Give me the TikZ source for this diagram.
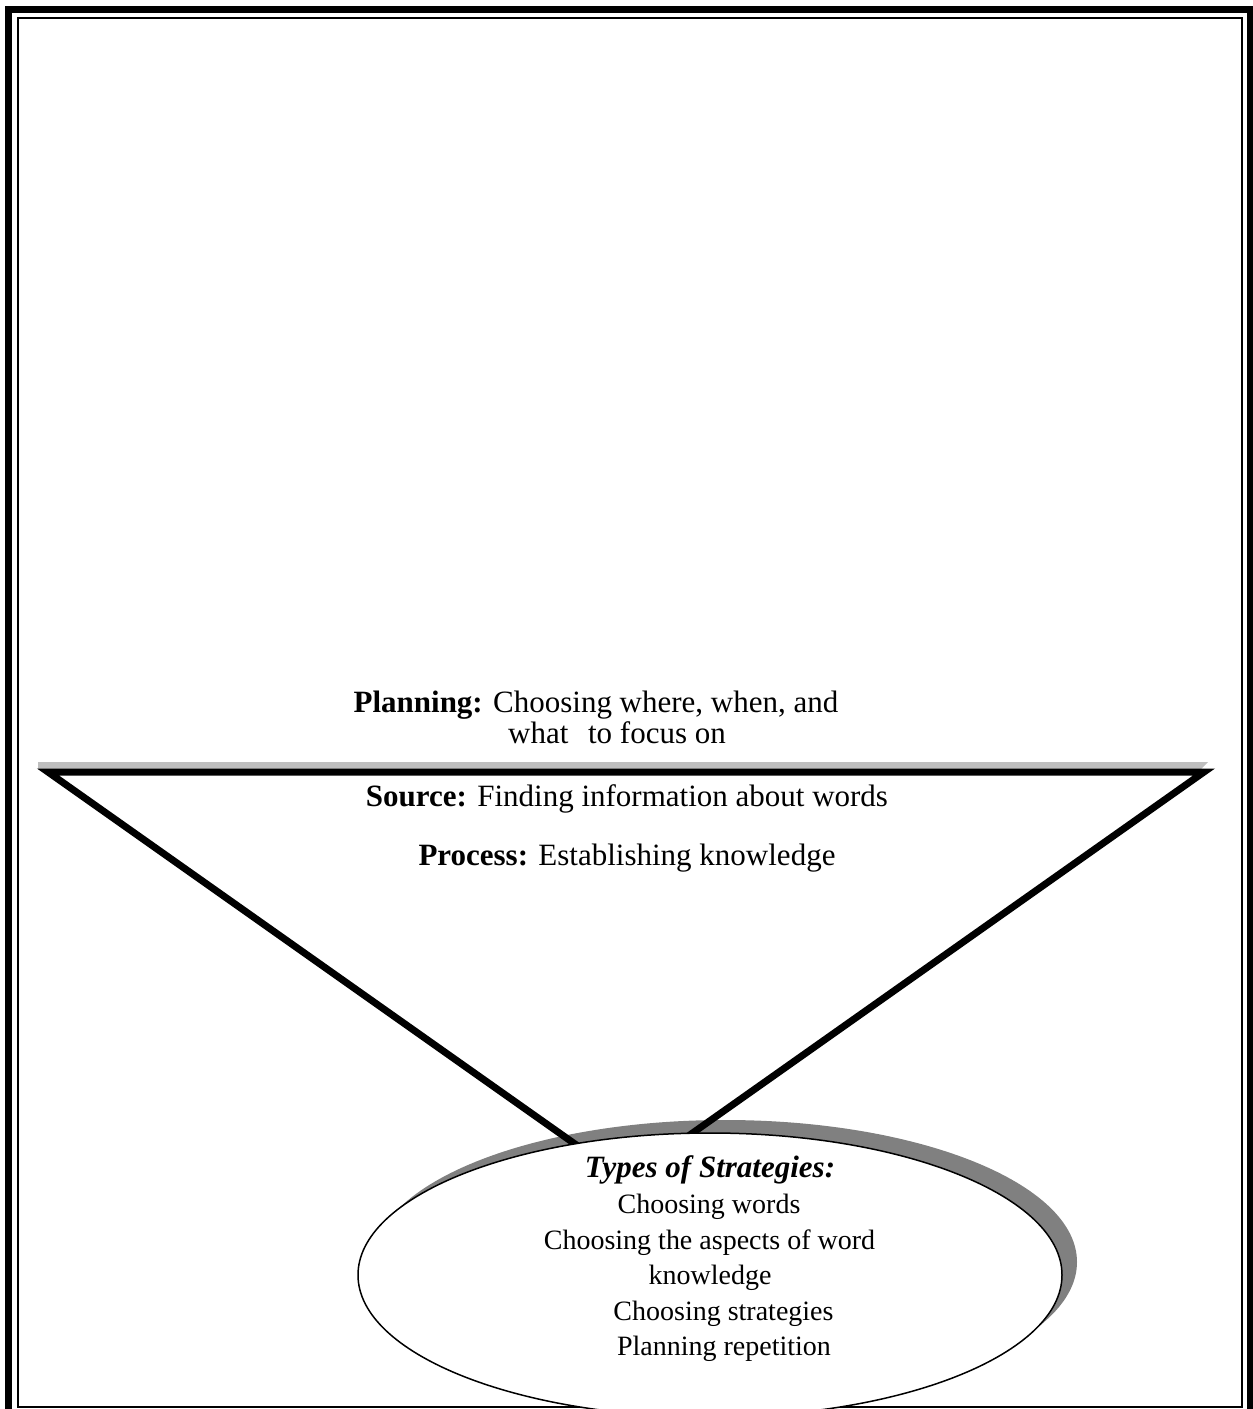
\documentclass[tikz,border=0pt]{standalone}
\usepackage{fontspec}
\setmainfont{Liberation Serif}
\usetikzlibrary{shapes.geometric}
\tikzset{
  txt/.style={anchor=base, inner sep=0pt, font=\fontsize{15.5}{17.5}\selectfont},
  smalltxt/.style={txt, font=\fontsize{14}{16.5}\selectfont},
  heavy/.style={line width=3.5pt, line join=miter},
}
\begin{document}
\begin{tikzpicture}[x=0.5pt,y=-0.5pt]

\def\SHADECOLOR{black!50}
\def\BANDCOLOR{black!25}
	\useasboundingbox (0,0) rectangle (1253,1409);
	\clip (0,0) rectangle (1253,1409);
	% page frame
	\draw[line width=3.5pt] (8.5,1420) -- (8.5,9) -- (1250.5,9) -- (1250.5,1420);
	\draw[line width=0.6pt] (18,18) rectangle (1242,1407);
	% shadow of the funnel top
	\fill[\BANDCOLOR] (38,762) -- (1208,762) -- (1201,769) -- (38,769) -- cycle;
	% shadow of the ellipse
	\fill[\SHADECOLOR] (725,1262) ellipse [x radius=352, y radius=142];
	% funnel
	\coordinate (topleft) at (48,772);
	\coordinate (topright) at (1204,772);
	\coordinate (tip) at (626,1180);
	\draw[heavy] (topleft) -- (topright) -- (tip) -- cycle;
	% ellipse
	\node (pool) [draw, fill=white, line width=0.75pt, ellipse, minimum width=352pt, minimum height=142pt, inner sep=0pt] at (710,1275) {};

	\node (plan1) [txt] at (596,712) {\textbf{Planning:} Choosing where, when, and};
	\node (plan2) [txt] at (617,743) {what\hspace{6pt} to focus on};
	\node (source) [txt] at (627,806) {\textbf{Source:} Finding information about words};
	\node (process) [txt] at (627,865) {\textbf{Process:} Establishing knowledge};

	\node (types) [txt] at (710,1177) {\textbf{\textit{Types of Strategies:}}};
	\node (words) [smalltxt] at (709,1213) {Choosing words};
	\node (aspects) [smalltxt] at (709.5,1249) {Choosing the aspects of word};
	\node (knowledge) [smalltxt] at (710,1284) {knowledge};
	\node (strategies) [smalltxt] at (723.5,1320) {Choosing strategies};
	\node (repetition) [smalltxt] at (724,1355) {Planning repetition};

\end{tikzpicture}
\end{document}
